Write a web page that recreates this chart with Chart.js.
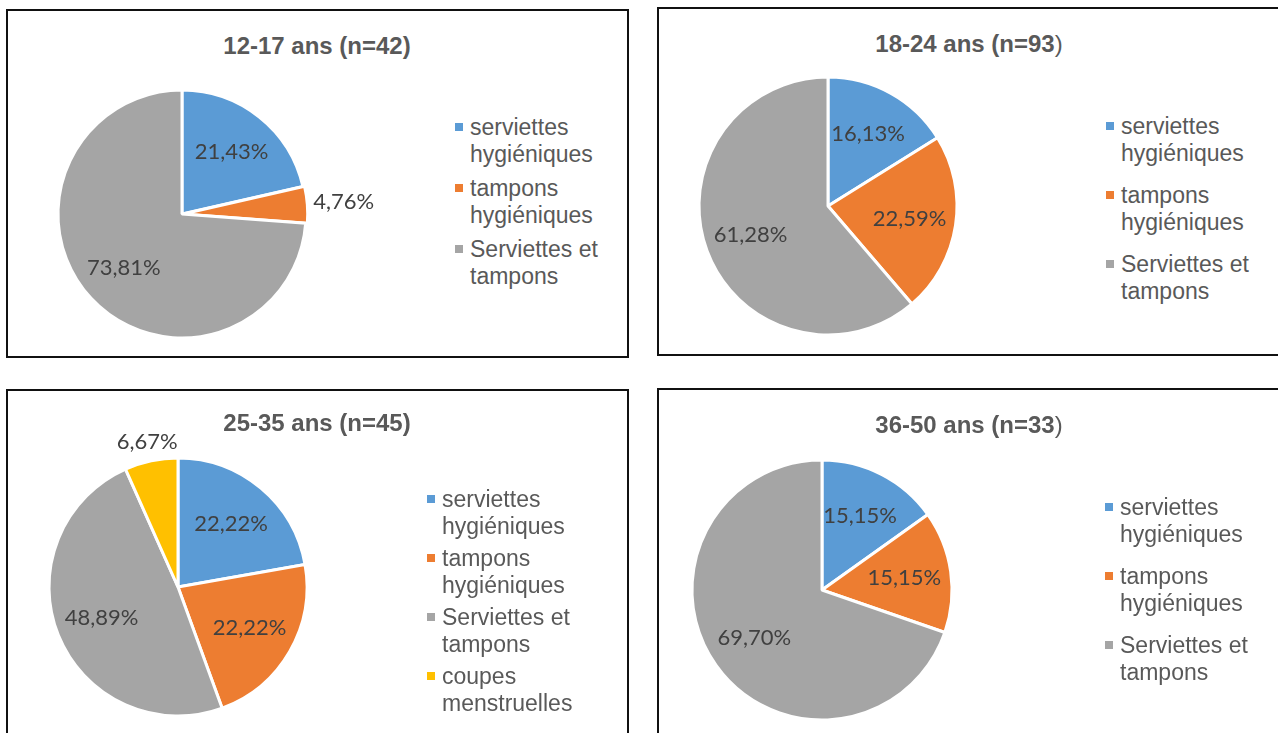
<!DOCTYPE html>
<html>
<head>
<meta charset="utf-8">
<script src="https://cdn.jsdelivr.net/npm/chart.js@4"></script>
<style>
  html, body { margin: 0; padding: 0; background: #fff; }
  body { width: 1278px; height: 733px; overflow: hidden; position: relative; font-family: "Liberation Sans", Arial, sans-serif; }
  .box { position: absolute; box-sizing: border-box; border: 2px solid #111; }
  .title { position: absolute; white-space: nowrap; font-weight: bold; color: #595959; font-size: 24px; line-height: 28px; transform: translateX(-50%); }
  .title .thin { font-weight: normal; }
  .legend { position: absolute; color: #595959; font-size: 23px; line-height: 26.5px; white-space: nowrap; }
  .item { position: relative; padding-left: 15px; }
  .mk { position: absolute; left: 0; top: 9px; width: 8px; height: 8px; }
  canvas { position: absolute; }
</style>
</head>
<body>
<script>
// ---- data ----
const categories = [
  ['serviettes', 'hygiéniques'],
  ['tampons', 'hygiéniques'],
  ['Serviettes et', 'tampons'],
  ['coupes', 'menstruelles']
];
const colors = ['#5B9BD5', '#ED7D31', '#A5A5A5', '#FFC000'];
const values1217 = [21.43, 4.76, 73.81];
const values1824 = [16.13, 22.59, 61.28];
const values2535 = [22.22, 22.22, 48.89, 6.67];
const values3650 = [15.15, 15.15, 69.70];
const titles = [
  ['12-17 ans (n=42)', ''],
  ['18-24 ans (n=93', ')'],
  ['25-35 ans (n=45)', ''],
  ['36-50 ans (n=33', ')']
];

// ---- layout (positions / styles only) ----
const panels = [
  { values: values1217, title: titles[0], box: [6, 9, 623, 349], titleX: 317, titleY: 32,
    cx: 182, cy: 214, r: 124, offsets: [0, 4, 0], legend: [455, 114, 8] },
  { values: values1824, title: titles[1], box: [657, 7, 640, 349], titleX: 969, titleY: 30,
    cx: 828, cy: 206, r: 129, offsets: [0, 0, 0], legend: [1106, 113, 16] },
  { values: values2535, title: titles[2], box: [6, 389, 623, 400], titleX: 317, titleY: 409,
    cx: 178, cy: 587, r: 129, offsets: [0, 0, 0, 0], legend: [427, 486, 6] },
  { values: values3650, title: titles[3], box: [657, 388, 640, 400], titleX: 969, titleY: 411,
    cx: 822, cy: 590, r: 130, offsets: [0, 0, 0], legend: [1105, 494, 16] }
];

const labelFont = '22px Lato, "Open Sans", sans-serif';
const fmt = v => v.toFixed(2).replace('.', ',') + '%';

const labelPlugin = {
  id: 'pieLabels',
  afterDatasetsDraw(chart) {
    const ctx = chart.ctx;
    const ds = chart.data.datasets[0];
    const meta = chart.getDatasetMeta(0);
    ctx.save();
    ctx.font = labelFont;
    ctx.fillStyle = '#404040';
    ctx.textAlign = 'center';
    ctx.textBaseline = 'middle';
    meta.data.forEach((arc, i) => {
      const p = arc.getProps(['x', 'y', 'startAngle', 'endAngle', 'outerRadius'], true);
      const mid = (p.startAngle + p.endAngle) / 2;
      const v = ds.data[i];
      const txt = fmt(v);
      const off = (ds.offset && ds.offset[i]) || 0;
      let d;
      if (v < 10) {
        const hw = ctx.measureText(txt).width / 2;
        d = p.outerRadius + off + 3 + Math.abs(Math.cos(mid)) * hw + Math.abs(Math.sin(mid)) * 10;
      } else {
        d = p.outerRadius * 0.64;
      }
      ctx.fillText(txt, p.x + Math.cos(mid) * d, p.y + Math.sin(mid) * d);
    });
    ctx.restore();
  }
};

panels.forEach(pn => {
  const box = document.createElement('div');
  box.className = 'box';
  box.style.left = pn.box[0] + 'px';
  box.style.top = pn.box[1] + 'px';
  box.style.width = pn.box[2] + 'px';
  box.style.height = pn.box[3] + 'px';
  document.body.appendChild(box);

  const t = document.createElement('div');
  t.className = 'title';
  t.style.left = pn.titleX + 'px';
  t.style.top = pn.titleY + 'px';
  t.textContent = pn.title[0];
  if (pn.title[1]) {
    const s = document.createElement('span');
    s.className = 'thin';
    s.textContent = pn.title[1];
    t.appendChild(s);
  }
  document.body.appendChild(t);

  const lg = document.createElement('div');
  lg.className = 'legend';
  lg.style.left = pn.legend[0] + 'px';
  lg.style.top = pn.legend[1] + 'px';
  pn.values.forEach((v, i) => {
    const it = document.createElement('div');
    it.className = 'item';
    if (i > 0) it.style.marginTop = pn.legend[2] + 'px';
    const mk = document.createElement('span');
    mk.className = 'mk';
    mk.style.background = colors[i];
    it.appendChild(mk);
    categories[i].forEach(line => {
      const l = document.createElement('div');
      l.textContent = line;
      it.appendChild(l);
    });
    lg.appendChild(it);
  });
  document.body.appendChild(lg);

  const half = pn.r + 75;
  const cv = document.createElement('canvas');
  cv.width = half * 2;
  cv.height = half * 2;
  cv.style.left = (pn.cx - half) + 'px';
  cv.style.top = (pn.cy - half) + 'px';
  cv.style.width = half * 2 + 'px';
  cv.style.height = half * 2 + 'px';
  document.body.appendChild(cv);

  new Chart(cv, {
    type: 'pie',
    data: {
      labels: pn.values.map((v, i) => categories[i].join(' ')),
      datasets: [{
        data: pn.values,
        backgroundColor: colors.slice(0, pn.values.length),
        borderColor: '#ffffff',
        borderWidth: 3,
        offset: pn.offsets,
        radius: pn.r
      }]
    },
    options: {
      responsive: false,
      animation: false,
      devicePixelRatio: 1,
      layout: { padding: 0 },
      plugins: { legend: { display: false }, title: { display: false }, tooltip: { enabled: false } }
    },
    plugins: [labelPlugin]
  });
});
</script>
</body>
</html>
